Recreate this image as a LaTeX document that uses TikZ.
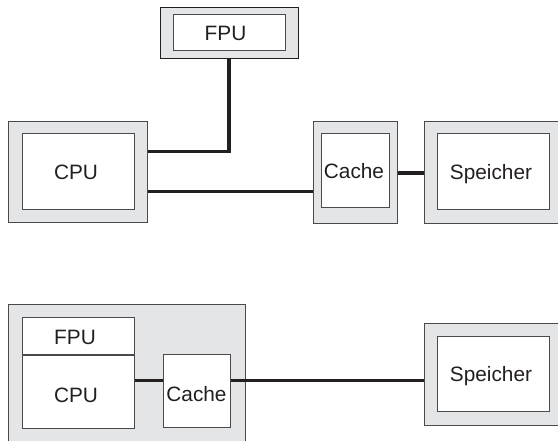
\documentclass[tikz,border=0pt]{standalone}
\usepackage{fontspec}
\setmainfont{Liberation Sans}
\definecolor{shell}{HTML}{E4E5E7}
\definecolor{rim}{HTML}{4A4A4C}
\definecolor{wire}{HTML}{231F20}
\tikzset{
  outerbox/.style={draw=rim,fill=shell,line width=1pt,inner sep=0pt,rectangle},
  innerbox/.style={draw=rim,fill=white,line width=1pt,inner sep=0pt,rectangle,
    font=\fontsize{20.8pt}{24pt}\selectfont,text height=16pt,text depth=0pt,text=wire},
  wirelink/.style={draw=wire,line width=3.6pt},
  box/.style args={#1x#2}{minimum width=#1pt,minimum height=#2pt}
}
\begin{document}
\begin{tikzpicture}[x=1pt,y=-1pt]
\useasboundingbox (0,0) rectangle (558,441);
\clip (0,0) rectangle (558,441);
% upper system
\node[outerbox,draw=wire,box=138x51] (fpuo) at (229,33.5) {};
\node[innerbox,box=112x36] (fpui) at (229,33) {FPU\kern7pt};
\node[outerbox,box=139x101] (cpuo) at (77.5,172.5) {};
\node[innerbox,box=112x76] (cpui) at (78,172) {CPU\kern4pt};
\node[outerbox,box=84x102] (cacheo) at (355,173) {};
\node[innerbox,box=68x74] (cachei) at (355,171) {Cache\kern2pt};
\node[outerbox,box=138x102] (memo) at (493,173) {};
\node[innerbox,box=112x76] (memi) at (493,172) {Speicher\kern4pt};
\draw[wirelink] (fpuo.south) |- ([yshift=21pt]cpuo.east);
\draw[wirelink] ([yshift=-19pt]cpuo.east) -- ([yshift=-18.5pt]cacheo.west);
\draw[wirelink] (cacheo.east) -- (memo.west);
% lower system
\node[outerbox,box=237x150] (chip) at (126.5,380) {};
\node[innerbox,box=112x37] (fpuii) at (78,336.5) {FPU\kern6pt};
\node[innerbox,box=112x73,text height=20.5pt] (cpuii) at (78,392.5) {CPU\kern4pt};
\node[innerbox,box=67x73,text height=19.5pt] (cacheii) at (196.5,391.5) {Cache};
\node[outerbox,box=138x102] (memoo) at (493,375) {};
\node[innerbox,box=112x75,text height=14pt] (memii) at (493,374.5) {Speicher\kern4pt};
\draw[wirelink] ([yshift=12pt]cpuii.east) -- ([yshift=11pt]cacheii.west);
\draw[wirelink] ([yshift=11pt]cacheii.east) -- ([yshift=-5.5pt]memoo.west);
\end{tikzpicture}
\end{document}
